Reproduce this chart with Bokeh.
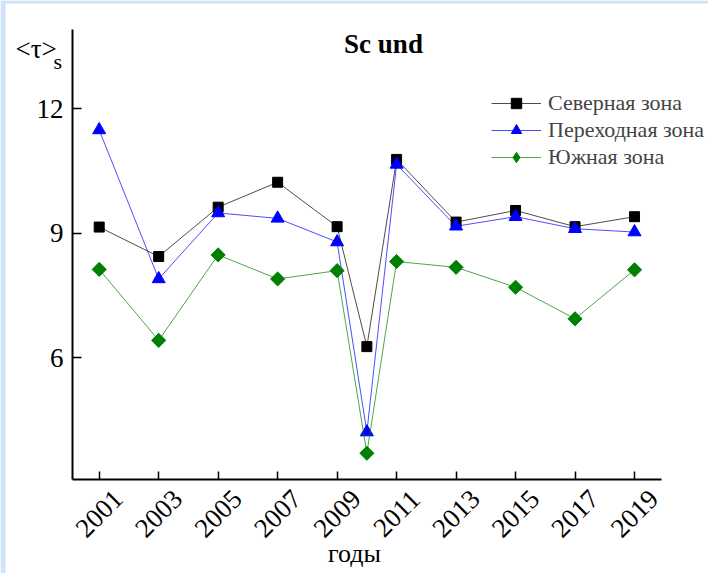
import math
from bokeh.plotting import figure
from bokeh.models import (Range1d, FixedTicker, Label, LabelSet, ColumnDataSource,
                          Legend, LegendItem, BoxAnnotation)
from bokeh.embed import file_html
from bokeh.resources import INLINE

# ---- data ----
years = [2001, 2003, 2005, 2007, 2009, 2010, 2011, 2013, 2015, 2017, 2019]
north = [9.15, 8.44, 9.63, 10.23, 9.16, 6.27, 10.78, 9.27, 9.55, 9.16, 9.40]
transit = [11.49, 7.90, 9.49, 9.36, 8.79, 4.21, 10.66, 9.17, 9.40, 9.11, 9.03]
south = [8.13, 6.42, 8.48, 7.90, 8.10, 3.70, 8.32, 8.18, 7.70, 6.94, 8.12]
series_names = ["Северная зона", "Переходная зона", "Южная зона"]
x_ticks = [2001, 2003, 2005, 2007, 2009, 2011, 2013, 2015, 2017, 2019]
x_tick_labels = ["2001", "2003", "2005", "2007", "2009", "2011", "2013", "2015", "2017", "2019"]
y_ticks = [6, 9, 12]
title_text = "Sc und"
y_label_main = "<τ>"
y_label_sub = "s"
x_label = "годы"

FONT = "Liberation Serif"
W, H = 708, 573

# pixel geometry (frame covers the whole canvas)
PXY = 29.74          # px per year
PXV = 41.5           # px per unit of <τ>
X_START = 2001 - 98.7 / PXY
X_END = X_START + W / PXY
Y_TOP = 6 + 357.3 / PXV
Y_START = Y_TOP - H / PXV
AXIS_X = X_START + 72 / PXY          # left axis position
AXIS_Y = Y_TOP - 478.7 / PXV         # bottom axis position
X_AXIS_END = X_START + 661 / PXY
Y_AXIS_END = Y_TOP - 29 / PXV

p = figure(width=W, height=H, output_backend="svg", toolbar_location=None,
           x_range=Range1d(X_START, X_END), y_range=Range1d(Y_START, Y_TOP),
           min_border=0)
p.title.visible = False
p.outline_line_color = None
p.xgrid.visible = False
p.ygrid.visible = False
p.background_fill_color = "white"
p.border_fill_color = "white"

# light blue page edge seen in the reference
EDGE = "#cde4f8"
p.add_layout(BoxAnnotation(left=0, right=5, bottom=0, top=H, left_units="screen",
                           right_units="screen", bottom_units="screen", top_units="screen",
                           fill_color=EDGE, fill_alpha=1, line_color=None, level="underlay"))
p.add_layout(BoxAnnotation(left=0, right=W, bottom=H - 3, top=H, left_units="screen",
                           right_units="screen", bottom_units="screen", top_units="screen",
                           fill_color=EDGE, fill_alpha=1, line_color=None, level="underlay"))

for ax in (p.xaxis[0], p.yaxis[0]):
    ax.axis_line_width = 2
    ax.axis_line_color = "black"
    ax.major_tick_line_width = 1.5
    ax.major_tick_line_color = "black"
    ax.major_tick_out = 0
    ax.minor_tick_line_color = None
    ax.major_label_text_font = FONT
    ax.major_label_text_color = "black"

xa = p.xaxis[0]
xa.fixed_location = AXIS_Y
xa.bounds = (AXIS_X, X_AXIS_END)
xa.ticker = FixedTicker(ticks=x_ticks)
xa.major_tick_in = 8
xa.major_label_overrides = {t: "" for t in x_ticks}
xa.major_label_text_font_size = "1px"

ya = p.yaxis[0]
ya.fixed_location = AXIS_X
ya.bounds = (AXIS_Y, Y_AXIS_END)
ya.ticker = FixedTicker(ticks=y_ticks)
ya.major_tick_in = 9
ya.major_label_text_font_size = "27px"
ya.major_label_standoff = 9

# series
src = ColumnDataSource(dict(x=years, n=north, t=transit, s=south))
l1 = p.line("x", "n", source=src, line_color="black", line_width=1, line_alpha=0.7)
m1 = p.scatter("x", "n", source=src, marker="square", size=10, color="black")
l2 = p.line("x", "t", source=src, line_color="#0000ff", line_width=1, line_alpha=0.7)
m2 = p.scatter("x", "t", source=src, marker="triangle", size=13, color="#0000ff")
l3 = p.line("x", "s", source=src, line_color="#008000", line_width=1, line_alpha=0.7)
m3d = p.scatter("x", "s", source=src, marker="diamond", size=12, color="#008000")
m3 = p.scatter("x", "s", source=src, marker="square", size=10, angle=math.pi / 4, color="#008000")

legend = Legend(items=[LegendItem(label=series_names[0], renderers=[l1, m1]),
                       LegendItem(label=series_names[1], renderers=[l2, m2]),
                       LegendItem(label=series_names[2], renderers=[l3, m3d])],
                location=(491, 403), orientation="vertical",
                glyph_width=50, glyph_height=26, label_height=20, spacing=1,
                padding=0, margin=0, label_standoff=7,
                label_text_font=FONT, label_text_font_size="22px",
                border_line_color=None, background_fill_alpha=0)
p.add_layout(legend)

# rotated x tick labels, centred under the ticks
lab_src = ColumnDataSource(dict(x=x_ticks, text=x_tick_labels))
p.add_layout(LabelSet(x="x", y=H - 513, y_units="screen", text="text", source=lab_src,
                      angle=math.pi / 4, text_align="center", text_baseline="middle",
                      text_font=FONT, text_font_size="27px", text_color="black"))

# title
p.add_layout(Label(x=383, y=H - 43, x_units="screen", y_units="screen", text=title_text,
                   text_align="center", text_baseline="middle", text_font=FONT,
                   text_font_style="bold", text_font_size="27px", text_color="black"))
# y label <τ>s
p.add_layout(Label(x=15, y=H - 48, x_units="screen", y_units="screen", text=y_label_main,
                   text_align="left", text_baseline="middle", text_font=FONT,
                   text_font_size="27px", text_color="black"))
p.add_layout(Label(x=53, y=H - 61, x_units="screen", y_units="screen", text=y_label_sub,
                   text_align="left", text_baseline="middle", text_font=FONT,
                   text_font_size="22px", text_color="black"))
# x label
p.add_layout(Label(x=354, y=H - 553, x_units="screen", y_units="screen", text=x_label,
                   text_align="center", text_baseline="middle", text_font=FONT,
                   text_font_size="26px", text_color="black"))

open("out.html", "w").write(file_html(p, INLINE))
